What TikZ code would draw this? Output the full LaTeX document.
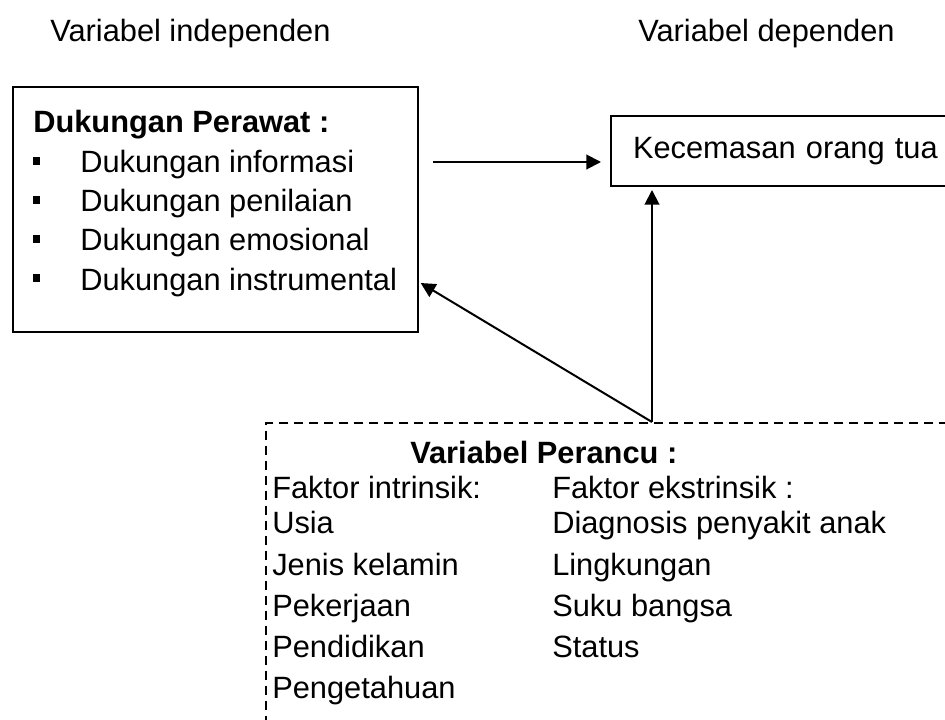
\documentclass[tikz,border=0pt]{standalone}
\usepackage{fontspec}
\setmainfont{Liberation Sans}
\usetikzlibrary{arrows.meta}
\tikzset{
  kotak/.style={draw, line width=1.5pt, inner sep=0pt},
  teks/.style={anchor=base west, inner sep=0pt, font=\fontsize{23.1}{27}\selectfont},
  judul/.style={teks, font=\fontsize{23.1}{27}\selectfont\bfseries},
  panah/.style={line width=1.5pt, -{Triangle[length=11pt,width=11pt]}},
  titik/.style={fill, minimum size=5.6pt, inner sep=0pt},
}
\begin{document}
\begin{tikzpicture}[x=0.75pt, y=-0.75pt]
  \useasboundingbox (0,0) rectangle (945,720);
  \clip (0,0) rectangle (945,720);

  % label atas
  \node[teks] (indep) at (50,42) {Variabel independen};
  \node[teks] (dep) at (638,42) {Variabel dependen};

  % kotak dukungan perawat
  \node[kotak, anchor=north west, minimum width=303.75pt, minimum height=183.75pt] (perawat) at (12,86) {};
  \node[judul] (judulperawat) at (33,133) {Dukungan Perawat :};
  \foreach \isi/\y [count=\i] in {Dukungan informasi/173, Dukungan penilaian/212, Dukungan emosional/251, Dukungan instrumental/290}{
    \node[titik] (titik\i) at (36.5,\y-12) {};
    \node[teks] (dukungan\i) at (80,\y) {\isi};
  }

  % kotak kecemasan
  \node[kotak, anchor=north west, minimum height=52.5pt, inner xsep=16.5pt, text width=260pt, align=left,
        font=\fontsize{23.1}{27}\selectfont] (cemas) at (610,115) {Kecemasan orang tua};

  % kotak variabel perancu
  \node[kotak, dash pattern=on 6.75pt off 4.5pt, anchor=north west, minimum width=551pt, minimum height=253.5pt] (perancu) at (265,422) {};
  \node[judul] (judulperancu) at (410,463) {Variabel Perancu :};
  \foreach \isi/\y [count=\i] in {Faktor intrinsik:/498, Usia/533, Jenis kelamin/575, Pekerjaan/616, Pendidikan/657, Pengetahuan/698}
    \node[teks] (intrinsik\i) at (272,\y) {\isi};
  \foreach \isi/\y [count=\i] in {Faktor ekstrinsik :/498, Diagnosis penyakit anak/533, Lingkungan/575, Suku bangsa/616, Status/657}
    \node[teks] (ekstrinsik\i) at (552,\y) {\isi};

  % panah
  \coordinate (awal) at (433,162);
  \coordinate (pangkal) at (652,422);
  \draw[panah, shorten >=6.75pt] (awal) -- (awal -| cemas.west);
  \draw[panah, shorten >=2.25pt] (pangkal) -- (pangkal |- cemas.south);
  \draw[panah, shorten >=1.5pt] (pangkal) -- (perawat.east |- 0,282);
\end{tikzpicture}
\end{document}
